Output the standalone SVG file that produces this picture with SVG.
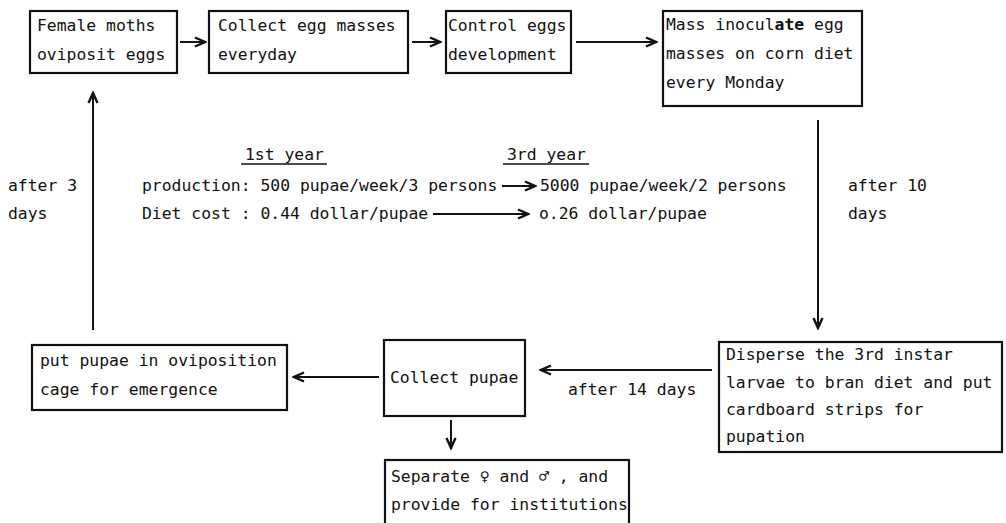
<svg xmlns="http://www.w3.org/2000/svg" width="1006" height="523" viewBox="0 0 1006 523">
<style>
text{font-family:"DejaVu Sans Mono","Liberation Mono",monospace;font-size:16.4px;fill:#111}
.box{fill:#fff;stroke:#111;stroke-width:2.2}
.ln{fill:none;stroke:#111;stroke-width:2}
.ul{fill:none;stroke:#111;stroke-width:1.6}
</style>
<defs>
<marker id="ah" markerUnits="userSpaceOnUse" markerWidth="14" markerHeight="12" refX="12" refY="6" orient="auto">
<path d="M2,1.5 L12,6 L2,10.5" fill="none" stroke="#111" stroke-width="2.4"/>
</marker>
</defs>
<rect width="1006" height="523" fill="#fff"/>
<g id="connectors">
<line class="ln" x1="180" y1="42" x2="205" y2="42" marker-end="url(#ah)"/>
<line class="ln" x1="412" y1="42" x2="440" y2="42" marker-end="url(#ah)"/>
<line class="ln" x1="576" y1="42" x2="656" y2="42" marker-end="url(#ah)"/>
<line class="ln" x1="818" y1="120" x2="818" y2="328" marker-end="url(#ah)"/>
<line class="ln" x1="712" y1="370" x2="541" y2="370" marker-end="url(#ah)"/>
<line class="ln" x1="379" y1="377" x2="294" y2="377" marker-end="url(#ah)"/>
<line class="ln" x1="93" y1="330" x2="93" y2="93" marker-end="url(#ah)"/>
<line class="ln" x1="451" y1="420" x2="451" y2="448" marker-end="url(#ah)"/>
<line class="ln" x1="502" y1="186" x2="535" y2="186" marker-end="url(#ah)"/>
<line class="ln" x1="433" y1="214" x2="528" y2="214" marker-end="url(#ah)"/>
</g>
<g id="n1">
<rect class="box" x="30" y="11" width="147" height="62"/>
<text x="37" y="31">Female moths</text>
<text x="37" y="60">oviposit eggs</text>
</g>
<g id="n2">
<rect class="box" x="209" y="11" width="199" height="62"/>
<text x="218" y="31">Collect egg masses</text>
<text x="218" y="60">everyday</text>
</g>
<g id="n3">
<rect class="box" x="446" y="11" width="125" height="62"/>
<text x="448" y="31">Control eggs</text>
<text x="448" y="60">development</text>
</g>
<g id="n4">
<rect class="box" x="663" y="11" width="199" height="95"/>
<text x="666" y="30">Mass inocul<tspan font-weight="bold">ate</tspan> egg</text>
<text x="666" y="59">masses on corn diet</text>
<text x="666" y="88">every Monday</text>
</g>
<g id="n5">
<rect class="box" x="719" y="342" width="283" height="110"/>
<text x="726" y="360">Disperse the 3rd instar</text>
<text x="726" y="388">larvae to bran diet and put</text>
<text x="726" y="415">cardboard strips for</text>
<text x="726" y="442">pupation</text>
</g>
<g id="n6">
<rect class="box" x="384" y="340" width="141" height="76"/>
<text x="390" y="383">Collect pupae</text>
</g>
<g id="n7">
<rect class="box" x="32" y="345" width="255" height="65"/>
<text x="40" y="366">put pupae in oviposition</text>
<text x="40" y="395">cage for emergence</text>
</g>
<g id="n8">
<rect class="box" x="385" y="460" width="244" height="80"/>
<text x="391" y="482">Separate ♀ and ♂ , and</text>
<text x="391" y="510">provide for institutions</text>
</g>
<g id="labels">
<text x="8" y="191">after 3</text>
<text x="8" y="219">days</text>
<text x="848" y="191">after 10</text>
<text x="848" y="219">days</text>
<text x="568" y="395">after 14 days</text>
<text x="245" y="160">1st year</text>
<line class="ul" x1="241" y1="164" x2="327" y2="164"/>
<text x="507" y="160">3rd year</text>
<line class="ul" x1="503" y1="164" x2="589" y2="164"/>
<text x="142" y="191">production: 500 pupae/week/3 persons</text>
<text x="540" y="191">5000 pupae/week/2 persons</text>
<text x="142" y="219">Diet cost : 0.44 dollar/pupae</text>
<text x="539" y="219">o.26 dollar/pupae</text>
</g>
</svg>
